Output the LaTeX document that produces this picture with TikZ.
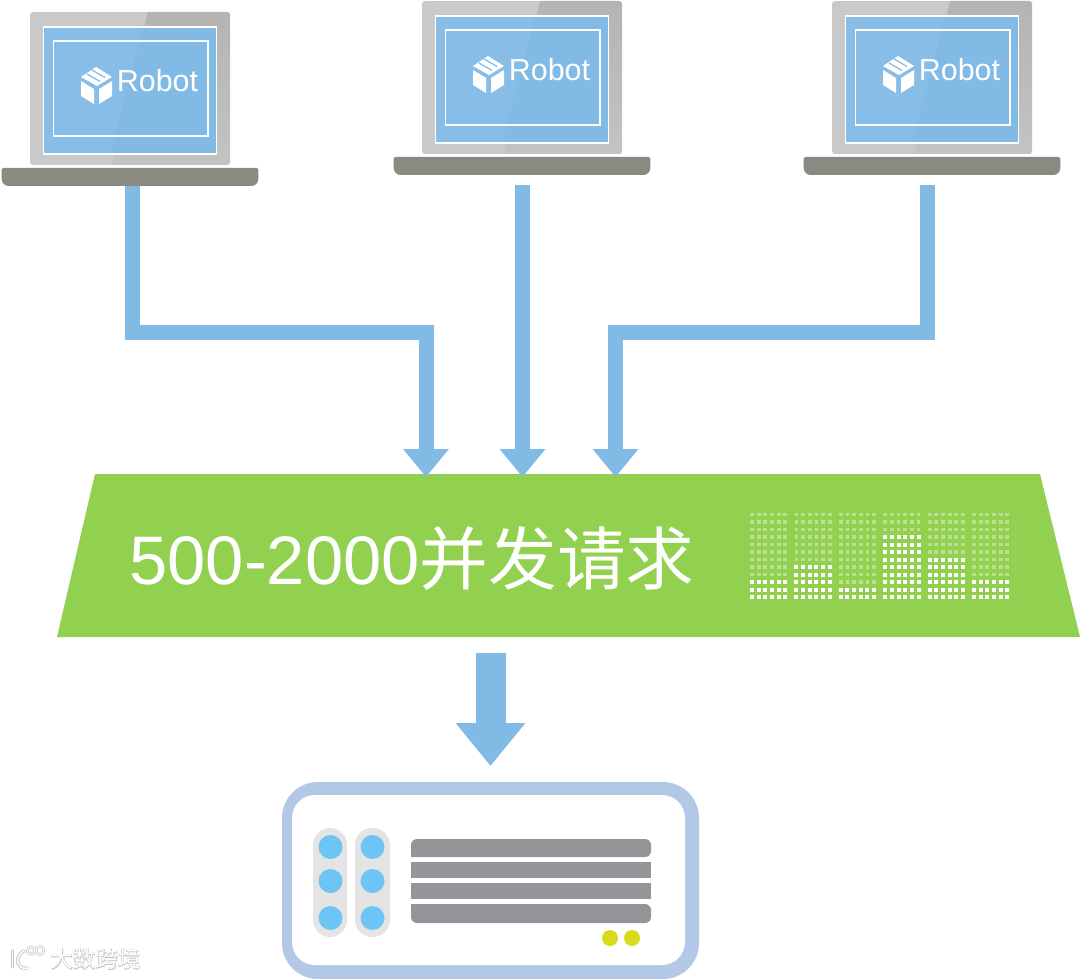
\documentclass[tikz,border=0pt]{standalone}
\usepackage{fontspec}
\setmainfont{Liberation Sans}
\newfontfamily\cjkf{Noto Sans CJK SC}
\newfontfamily\cjkb[FakeBold=4]{Noto Sans CJK SC}
\usetikzlibrary{arrows.meta,calc}
\definecolor{flow}{HTML}{82BAE6}
\definecolor{barG}{HTML}{92D050}
\definecolor{frameB}{HTML}{B3C7E6}
\definecolor{pillG}{HTML}{E4E4E4}
\definecolor{ledB}{HTML}{6CC5F4}
\definecolor{slotG}{HTML}{939598}
\definecolor{ledY}{HTML}{D7DB1C}
\definecolor{bodyL}{HTML}{C9C9C9}
\definecolor{bodyD}{HTML}{B5B4B3}
\definecolor{bodyM}{HTML}{C3C3C3}
\definecolor{screenL}{HTML}{88BDE8}
\definecolor{baseG}{HTML}{8A8A82}
\definecolor{markG}{HTML}{C4C4C4}
\tikzset{
  thinarrow/.style={draw=flow,line width=15pt,-{Triangle[width=44pt,length=28pt]}},
  fatarrow/.style={draw=flow,line width=30pt,-{Triangle[width=67pt,length=43pt]},shorten >=16pt,shorten <=16pt},
  basebox/.style={rectangle,inner sep=0pt,outer sep=0pt,minimum width=256.6pt,minimum height=18pt},
  whiteline/.style={draw=white,line width=1.5pt},
  pill/.style={fill=pillG,rounded corners=17pt},
  led/.style={fill=ledB},
  slot/.style={fill=slotG},
}
\newcommand{\laptop}[3]{%
\begin{scope}[shift={(#2,#3)}]
  \begin{scope}
    \clip[rounded corners=3pt] (30,12) rectangle (230,165);
    \fill[bodyL] (30,12) rectangle (230,165);
    \shade[top color=bodyD,bottom color=bodyM] (148,12) -- (112,165) -- (230,165) -- (230,12) -- cycle;
  \end{scope}
  \fill[flow] (43.3,27) rectangle (216.7,154);
  \fill[screenL] (43.3,27) -- (143,27) -- (110,154) -- (43.3,154) -- cycle;
  \draw[whiteline] (43.3,27) rectangle (216.7,154);
  \draw[whiteline] (53.5,41) rectangle (208,136);
  % box icon
  \fill[white] (81,81) -- (94,89) -- (94,104) -- (81,96) -- cycle;
  \fill[white] (99,89) -- (112,81) -- (112,96) -- (99,104) -- cycle;
  \fill[white] (81,77) -- (96,67) -- (112,77) -- (97,86) -- cycle;
  \draw[flow,line width=1.2pt] (87,74) -- (100,81.5);
  \draw[flow,line width=1.2pt] (92,70) -- (105,77.5);
  \node[text=white,font=\fontsize{30.4}{34}\selectfont,anchor=center,inner sep=0pt] (robot#1) at (157.5,81) {Robot};
  \node[basebox] (base#1) at (130,177) {};
  \fill[baseG,rounded corners=1.5pt] (1.7,168) -- (258.3,168) [rounded corners=7pt] -- (258.3,186) -- (1.7,186) [rounded corners=1.5pt] -- cycle;
\end{scope}}
\begin{document}
\begin{tikzpicture}[x=1pt,y=-1pt]
\useasboundingbox (0,0) rectangle (1080,979);
\fill[white] (0,0) rectangle (1080,979);
\laptop{1}{0}{0}
\laptop{2}{392}{-11}
\laptop{3}{802}{-11}
% demand bar
\node[rectangle,minimum width=1023pt,minimum height=163pt,inner sep=0pt,outer sep=0pt] (bar) at (568.5,555.5) {};
\fill[barG] ([xshift=38pt]bar.north west) -- ([xshift=-40pt]bar.north east) -- (bar.south east) -- (bar.south west) -- cycle;
\node[text=white,font=\fontsize{68.7}{72}\selectfont,anchor=center,inner sep=0pt] (load) at (412,558) {500-2000{\cjkf 并发请求}};
% level meter
\foreach \c/\h in {0/3,1/5,2/2,3/9,4/6,5/3}{
  \foreach \r in {0,...,11}{
    \foreach \d in {0,...,5}{
      \pgfmathsetmacro{\px}{752+\c*44.4+\d*6.67}
      \pgfmathsetmacro{\py}{597-\r*7.5}
      \pgfmathparse{\r<\h?1:0}
      \ifnum\pgfmathresult=1
        \fill[white] (\px-2,\py-2) rectangle (\px+2,\py+2);
      \else
        \fill[white,opacity=.36] (\px-1.9,\py-1.9) rectangle (\px+1.9,\py+1.9);
      \fi
    }
  }
}
% server
\node[fill=frameB,rounded corners=36pt,minimum width=417pt,minimum height=197pt,inner sep=0pt,outer sep=0pt] (server) at (490.5,880.5) {};
\node[fill=white,rounded corners=23pt,minimum width=393pt,minimum height=170pt,inner sep=0pt,outer sep=0pt] (serverin) at (488.5,880) {};
\fill[pill] (313,828) rectangle (347,937);
\fill[pill] (355,828) rectangle (390,937);
\foreach \x in {330.5,372.5}{\foreach \y in {847,881,918}{\fill[led] (\x,\y) circle (12);}}
\fill[slot,rounded corners=6pt] (411,857) -- (411,839) -- (651,839) -- (651,857) [sharp corners] -- cycle;
\fill[slot] (411,862) rectangle (651,878);
\fill[slot] (411,883) rectangle (651,899);
\fill[slot,rounded corners=6pt] (411,904) -- (411,923) -- (651,923) -- (651,904) [sharp corners] -- cycle;
\fill[ledY] (610,938) circle (8);
\fill[ledY] (632,938) circle (8);
% connectors
\draw[thinarrow] ([xshift=2.5pt]base1.south) -- ++(0,146.5) -| ([xshift=-142.5pt,yshift=-3pt]bar.north);
\draw[thinarrow,shorten <=10pt] ([xshift=0.5pt]base2.south) -- ([xshift=-46pt,yshift=-3pt]bar.north);
\draw[thinarrow,shorten <=10pt] ([xshift=-4.5pt]base3.south) -- ++(0,157.5) -| ([xshift=47pt,yshift=-3pt]bar.north);
\draw[fatarrow] (server.north |- bar.south) -- (server.north);
% watermark
\foreach \col/\wa/\wb in {markG/3.4/2.6,white/1.5/1.1}{
  \draw[\col,line width=\wa pt,line cap=round] (12.5,951) -- (12.5,967);
  \draw[\col,line width=\wa pt,line cap=round] (24,951) .. controls (17,955) and (16,962) .. (19,965) .. controls (21,968) and (24,969) .. (27,968);
  \draw[\col,line width=\wb pt] (31,950.5) circle (3.6) (40,950.5) circle (4);
}
\node[inner sep=0pt,anchor=center,font=\fontsize{22.5}{24}\selectfont] (mark) at (95.5,959)
  {\rlap{\cjkb\textcolor{markG}{大数跨境}}{\cjkf\textcolor{white}{大数跨境}}};
\end{tikzpicture}
\end{document}
